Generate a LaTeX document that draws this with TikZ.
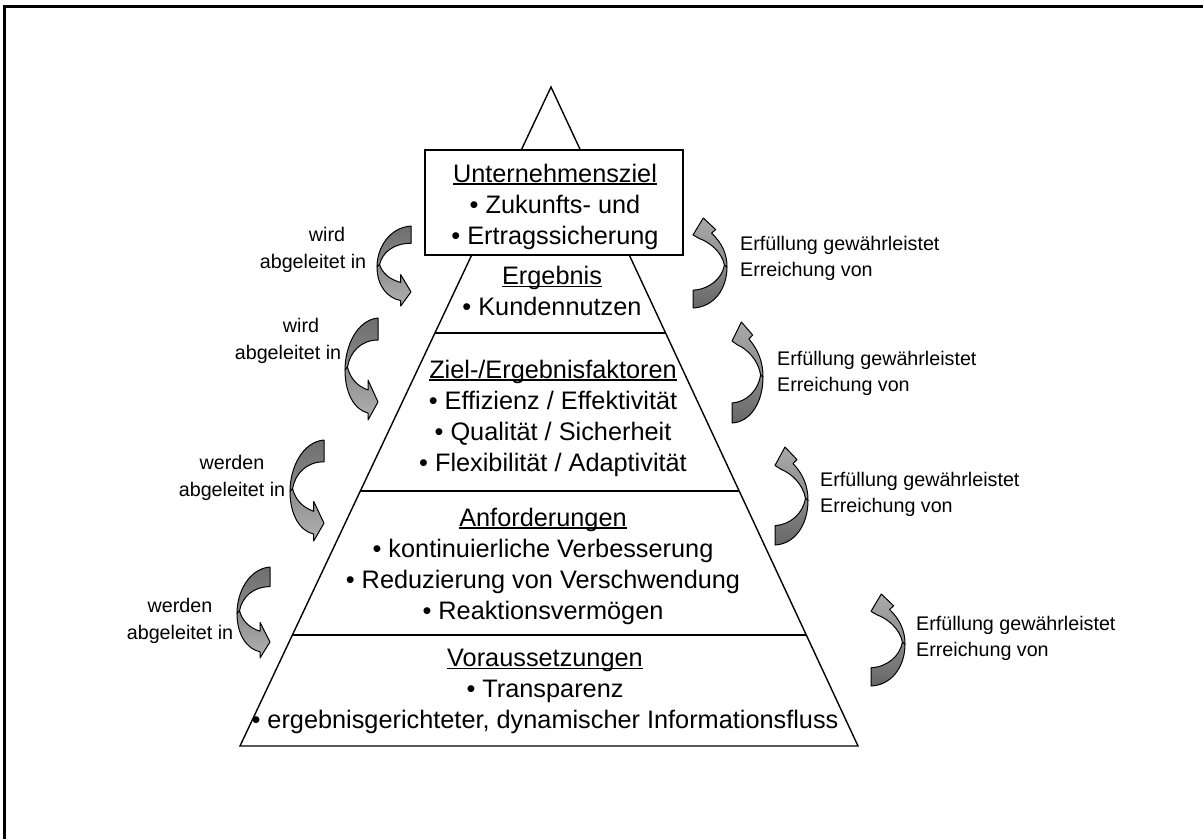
\documentclass[tikz,border=0pt]{standalone}
\usepackage{fontspec}
\setmainfont{Liberation Sans}
\usetikzlibrary{calc}
% underline set at a fixed depth below the baseline
\newcommand\undl[1]{\setbox0\hbox{#1}\rlap{\rule[-2.6pt]{\wd0}{1.3pt}}\box0}
\definecolor{bandA}{HTML}{6E6E6E}
\definecolor{bandB}{HTML}{8A8A8A}
\definecolor{bandC}{HTML}{B2B2B2}
\definecolor{bandD}{HTML}{AAAAAA}
\definecolor{bandE}{HTML}{666666}
\tikzset{
  pyr/.style={line width=1.4pt, line join=miter},
  level text/.style={font=\fontsize{25.3}{31}\selectfont, align=center, inner sep=0pt},
  side text/.style={font=\fontsize{19.7}{26.5}\selectfont, inner sep=0pt},
  arrow edge/.style={draw=black, line width=1pt, line join=round},
  % curved block arrow: tail top right, bending left, head pointing down-right
  larrow/.pic={
    \path[arrow edge, top color=bandA, bottom color=bandB]
      (33,0) .. controls (12,2) and (0,28) .. (0,52) -- (2.5,49)
      .. controls (5,34) and (16,22) .. (33,22) -- cycle;
    \path[arrow edge, top color=bandB, bottom color=bandC]
      (0,52) .. controls (0,76) and (10,92) .. (23,95) -- (23,102) -- (33,84)
      -- (23,62) -- (23,72) .. controls (12,68) and (5,60) .. (2.5,49) -- cycle;
  },
  % curved block arrow: tail bottom left, bending right, head pointing up
  rarrow/.pic={
    \path[arrow edge, top color=bandD, bottom color=bandB]
      (10,0) -- (22,13) -- (18,17) .. controls (28,28) and (33,40) .. (33,55)
      -- (30.5,53) .. controls (28,38) and (16,27) .. (6,23) -- (0,19) -- cycle;
    \path[arrow edge, top color=bandB, bottom color=bandE]
      (33,55) .. controls (33,80) and (20,100) .. (0,101) -- (0,81)
      .. controls (16,80) and (28,68) .. (30.5,53) -- cycle;
  },
}
\begin{document}
\begin{tikzpicture}[x=1pt,y=-1pt]
\useasboundingbox (0,0) rectangle (1203,839);
\fill[white] (0,0) rectangle (1203,839);

% open frame
\draw[line width=3pt] (4.5,839) -- (4.5,6.5) -- (1203,6.5);

% pyramid outline
\coordinate (apex) at (551,87);
\coordinate (bl) at (240,746);
\coordinate (br) at (858,746);
\draw[pyr] (bl) -- (apex) -- (br) -- cycle;

% level boundaries
\coordinate (l1) at ($(apex)!{(333-87)/659}!(bl)$);
\coordinate (r1) at ($(apex)!{(333-87)/659}!(br)$);
\coordinate (l2) at ($(apex)!{(491-87)/659}!(bl)$);
\coordinate (r2) at ($(apex)!{(491-87)/659}!(br)$);
\coordinate (l3) at ($(apex)!{(635-87)/659}!(bl)$);
\coordinate (r3) at ($(apex)!{(635-87)/659}!(br)$);
\draw[pyr] (l1) -- (r1);
\draw[pyr] (l2) -- (r2);
\draw[pyr] (l3) -- (r3);

% goal box on top of the pyramid
\node (goalbox) [draw, line width=1.4pt, fill=white, minimum width=258pt,
  minimum height=105pt, inner sep=0pt] at (554,202.5) {};
\node (goal) [level text] at (555,206.5)
  {\undl{Unternehmensziel}\\• Zukunfts- und\\• Ertragssicherung};

\node (result) [level text] at (552,291)
  {\undl{Ergebnis}\\• Kundennutzen};
\node (factors) [level text] at (553,418)
  {\undl{Ziel-/Ergebnisfaktoren}\\• Effizienz / Effektivität\\• Qualität / Sicherheit\\• Flexibilität / Adaptivität};
\node (demands) [level text] at (543,566)
  {\undl{Anforderungen}\\• kontinuierliche Verbesserung\\• Reduzierung von Verschwendung\\• Reaktionsvermögen};
\node (basis) [level text] at (545,691.5)
  {\undl{Voraussetzungen}\\• Transparenz\\• ergebnisgerichteter, dynamischer Informationsfluss};

% derivation arrows (left side)
\pic[xscale=34/33, yscale=80/102] at (377,226) {larrow};
\pic at (345,318) {larrow};
\pic[xscale=34/33, yscale=101/102] at (290,440) {larrow};
\pic[yscale=91/102] at (237,567) {larrow};

\node (d1) [side text, align=center] at (313,250) {\hspace*{28pt}wird\\abgeleitet in};
\node (d2) [side text, align=center] at (288,341) {\hspace*{26pt}wird\\abgeleitet in};
\node (d3) [side text, align=center] at (232,478) {werden\\abgeleitet in};
\node (d4) [side text, align=center] at (180,621) {werden\\abgeleitet in};

% fulfilment arrows (right side)
\pic[yscale=90/101, xscale=34/33] at (693,218) {rarrow};
\pic[xscale=31/33] at (732,322) {rarrow};
\pic[yscale=98/101] at (775,447) {rarrow};
\pic[yscale=92/101, xscale=34/33] at (871,594) {rarrow};

\node (f1) [side text, align=left, anchor=west] at (740,258.3) {Erfüllung gewährleistet\\Erreichung von};
\node (f2) [side text, align=left, anchor=west] at (777,373.4) {Erfüllung gewährleistet\\Erreichung von};
\node (f3) [side text, align=left, anchor=west] at (820,494.5) {Erfüllung gewährleistet\\Erreichung von};
\node (f4) [side text, align=left, anchor=west] at (916,638.4) {Erfüllung gewährleistet\\Erreichung von};
\end{tikzpicture}
\end{document}
